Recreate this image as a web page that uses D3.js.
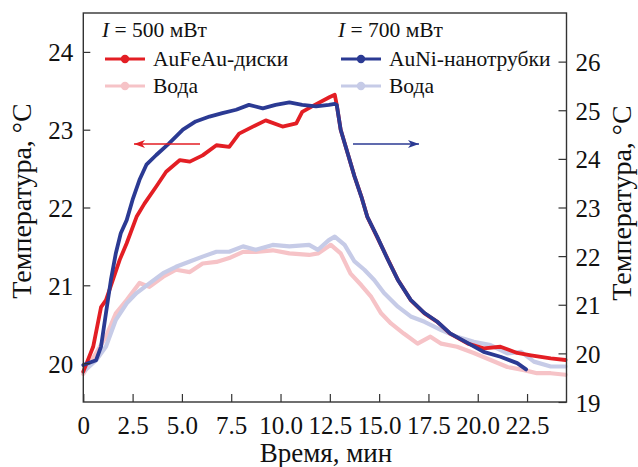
<!DOCTYPE html>
<html><head><meta charset="utf-8">
<script src="https://cdn.jsdelivr.net/npm/d3@7"></script>
<style>
html,body{margin:0;padding:0;background:#fff;}
svg{display:block;}
svg text{font-family:'Liberation Serif','Times New Roman','DejaVu Serif',serif !important;}
</style></head>
<body><svg id="chart" width="638" height="467"></svg>
<script>
// ---- data (time in minutes, temperature in °C) ----
const redT   = [0,0.5,0.9,1.15,1.5,1.85,2.2,2.7,3.1,3.7,4.2,4.9,5.4,6.05,6.75,7.4,7.9,8.6,9.25,10.1,10.8,11.1,11.6,12.5,12.75,12.85,13.05,13.4,13.75,14.1,14.4,14.9,15.45,15.95,16.6,17.3,17.95,18.6,19.5,20.3,21.15,22.0,22.7,23.7,24.45];
const redV   = [19.89,20.21,20.72,20.81,21.07,21.33,21.54,21.88,22.05,22.27,22.46,22.61,22.59,22.67,22.80,22.78,22.95,23.04,23.12,23.04,23.08,23.23,23.30,23.42,23.45,23.32,23.00,22.70,22.40,22.14,21.88,21.62,21.33,21.07,20.81,20.64,20.53,20.38,20.25,20.19,20.21,20.13,20.10,20.06,20.04];

const pinkT  = [0,0.65,1.15,1.65,2.2,2.85,3.35,4.05,4.7,5.4,6.05,6.75,7.4,8.1,8.75,9.6,10.45,11.45,11.9,12.55,13.05,13.55,14.1,14.6,15.1,15.6,16.25,16.95,17.6,18.15,18.95,19.8,20.65,21.5,22.35,23.0,23.7,24.45];
const pinkV  = [19.86,20.13,20.34,20.64,20.81,21.03,20.98,21.11,21.20,21.17,21.28,21.30,21.35,21.43,21.43,21.45,21.41,21.39,21.41,21.52,21.41,21.15,21.00,20.85,20.64,20.51,20.38,20.25,20.34,20.25,20.21,20.13,20.04,19.95,19.91,19.87,19.87,19.85];

const blueT  = [0,0.65,0.9,1.15,1.4,1.65,1.9,2.2,2.5,2.85,3.2,3.7,4.35,5.05,5.7,6.4,7.05,7.75,8.4,9.1,9.75,10.45,11.1,11.8,12.45,12.75,12.85,13.05,13.4,13.75,14.1,14.4,14.9,15.45,15.95,16.6,17.3,17.95,18.6,19.5,20.3,21.15,22.0,22.45];
const blueV  = [19.76,19.86,20.14,20.83,21.51,22.06,22.47,22.74,23.16,23.57,23.88,24.08,24.32,24.60,24.77,24.87,24.94,25.01,25.11,25.04,25.11,25.16,25.11,25.08,25.11,25.13,25.11,24.60,24.12,23.64,23.22,22.81,22.40,21.92,21.51,21.10,20.83,20.65,20.41,20.21,20.03,19.93,19.80,19.67];

const lblueT = [0,0.65,1.15,1.65,2.2,2.7,3.35,4.05,4.7,5.4,6.05,6.75,7.4,8.1,8.75,9.6,10.45,11.45,11.9,12.45,12.75,13.25,13.75,14.25,14.75,15.25,15.95,16.6,17.3,18.15,18.95,19.8,20.65,21.5,22.2,22.85,23.7,24.45];
const lblueV = [19.62,19.86,20.14,20.69,21.03,21.24,21.44,21.65,21.78,21.89,21.99,22.09,22.09,22.20,22.13,22.23,22.20,22.23,22.13,22.33,22.40,22.23,21.89,21.72,21.51,21.24,20.96,20.76,20.65,20.48,20.34,20.24,20.17,20.00,20.03,19.83,19.73,19.73];

const xTicks = [0,2.5,5.0,7.5,10.0,12.5,15.0,17.5,20.0,22.5];
const xTickLabels = ["0","2.5","5.0","7.5","10.0","12.5","15.0","17.5","20.0","22.5"];
const yLeftTicks = [20,21,22,23,24];
const yRightTicks = [19,20,21,22,23,24,25,26];
const xTitle = "Время, мин";
const yTitle = "Температура, °С";
const legendLeft = {head:"500 мВт", items:["AuFeAu-диски","Вода"]};
const legendRight = {head:"700 мВт", items:["AuNi-нанотрубки","Вода"]};

// ---- layout ----
const FONT = "'Liberation Serif','Times New Roman','DejaVu Serif',serif";
const RED="#e31e24", PINK="#f6c3c7", BLUE="#2b3a93", LBLUE="#c6cbe7", AX="#333";
const L=83.3, R=566.5, T=13, B=402;
const svg = d3.select("#chart").attr("font-family",FONT);
const x  = d3.scaleLinear([0,24.5],[L,R]);
const yL = d3.scaleLinear([19.5,24.5],[B,T]);
const yR = d3.scaleLinear([19,27],[B,T]);

function zip(t,v){return t.map((d,i)=>[d,v[i]]);}
function drawLine(t,v,ys,color,w){
  svg.append("path").datum(zip(t,v))
    .attr("fill","none").attr("stroke",color).attr("stroke-width",w)
    .attr("stroke-linejoin","round").attr("stroke-linecap","round")
    .attr("d", d3.line().x(d=>x(d[0])).y(d=>ys(d[1])));
}
drawLine(pinkT,pinkV,yL,PINK,4.2);
drawLine(lblueT,lblueV,yR,LBLUE,4.2);
drawLine(redT,redV,yL,RED,3.8);
drawLine(blueT,blueV,yR,BLUE,3.8);

// axes
const fs = 25;
const gx = svg.append("g").attr("transform",`translate(0,${B})`)
  .call(d3.axisBottom(x).tickValues(xTicks).tickFormat((d,i)=>xTickLabels[i]).tickSize(-8).tickSizeOuter(0).tickPadding(14));
const gl = svg.append("g").attr("transform",`translate(${L},0)`)
  .call(d3.axisLeft(yL).tickValues(yLeftTicks).tickFormat(d3.format("d")).tickSize(-7).tickSizeOuter(0).tickPadding(10));
const gr = svg.append("g").attr("transform",`translate(${R},0)`)
  .call(d3.axisRight(yR).tickValues(yRightTicks).tickFormat(d3.format("d")).tickSize(-8).tickSizeOuter(0).tickPadding(9));
[gx,gl,gr].forEach(g=>{
  g.attr("font-family",FONT).attr("font-size",fs);
  g.select(".domain").remove();
  g.selectAll(".tick line").attr("stroke",AX).attr("stroke-width",1.2);
  g.selectAll(".tick text").attr("fill","#111").attr("font-size",fs).attr("font-family",FONT);
});
gl.selectAll(".tick text").attr("dy","0.36em");
gr.selectAll(".tick text").attr("dy","0.36em");

svg.append("rect").attr("x",L).attr("y",T).attr("width",R-L).attr("height",B-T)
  .attr("fill","none").attr("stroke",AX).attr("stroke-width",1.4);

// titles
svg.append("text").attr("x",(L+R)/2+1).attr("y",462).attr("text-anchor","middle")
  .attr("font-size",27).attr("fill","#111").text(xTitle);
svg.append("text").attr("transform","translate(31,201) rotate(-90)").attr("text-anchor","middle")
  .attr("font-size",28).attr("fill","#111").text(yTitle);
svg.append("text").attr("transform","translate(631,203) rotate(-90)").attr("text-anchor","middle")
  .attr("font-size",28).attr("fill","#111").text(yTitle);

// legends
function legend(x0,lg,colors){
  const h = svg.append("text").attr("x",x0).attr("y",37).attr("font-size",21.5).attr("fill","#111");
  h.append("tspan").attr("font-style","italic").text("I");
  h.append("tspan").text(" = "+lg.head);
  lg.items.forEach((s,i)=>{
    const yy = 59 + i*27;
    svg.append("line").attr("x1",x0+3).attr("x2",x0+43).attr("y1",yy).attr("y2",yy)
      .attr("stroke",colors[i]).attr("stroke-width",3);
    svg.append("circle").attr("cx",x0+23).attr("cy",yy).attr("r",4.2).attr("fill",colors[i]);
    svg.append("text").attr("x",x0+51).attr("y",yy+7).attr("font-size",21.5).attr("fill","#111").text(s);
  });
}
legend(102,legendLeft,[RED,PINK]);
legend(338,legendRight,[BLUE,LBLUE]);

// arrows
function arrow(x1,x2,yy,color){
  svg.append("line").attr("x1",x1).attr("x2",x2).attr("y1",yy).attr("y2",yy)
    .attr("stroke",color).attr("stroke-width",1.5);
  const dir = Math.sign(x2-x1);
  svg.append("path").attr("d",`M${x2},${yy} L${x2-dir*11},${yy-4} L${x2-dir*8},${yy} L${x2-dir*11},${yy+4} Z`)
    .attr("fill",color);
}
arrow(200,134,144,RED);
arrow(353,419,144,BLUE);
</script></body></html>
